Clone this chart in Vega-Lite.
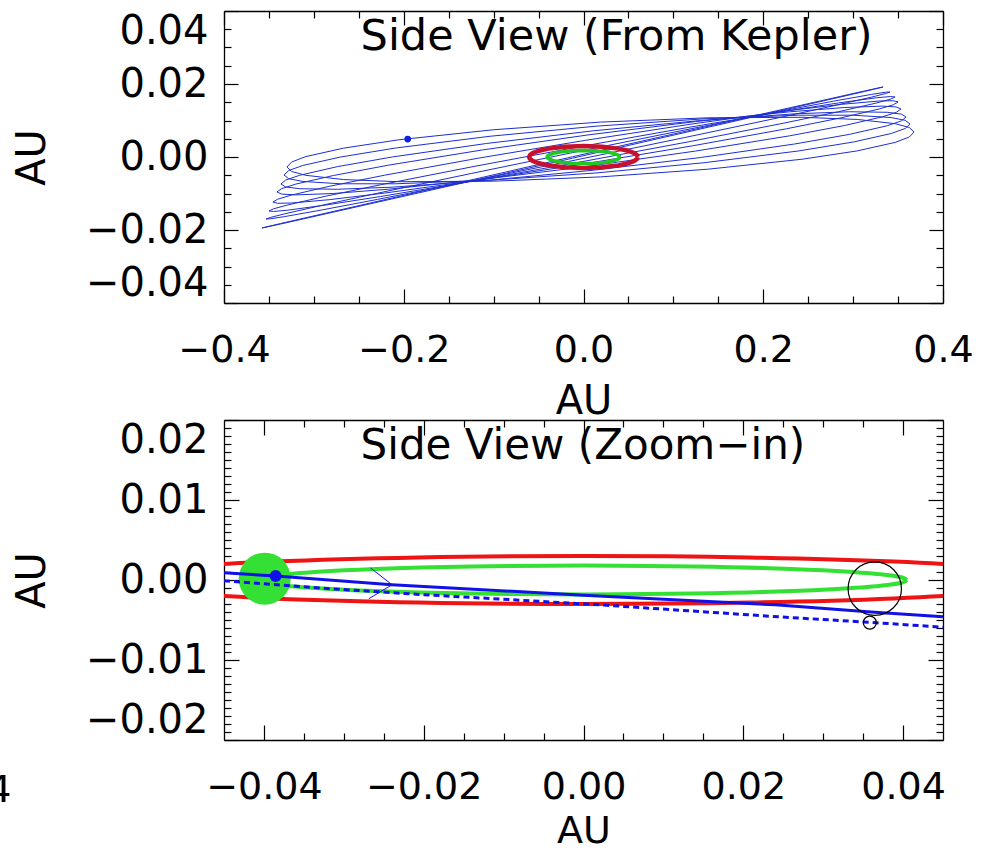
{
"$schema": "https://vega.github.io/schema/vega-lite/v6.json",
"background": "white",
"padding": {"left": -13, "top": 9, "right": 0, "bottom": 0},
"bounds": "flush",
"spacing": 117,
"config": {
  "view": {"stroke": null},
  "font": "DejaVu Sans",
  "axis": {"grid": false, "domainColor": "black", "domainWidth": 1.3, "tickColor": "black", "tickWidth": 1.2,
    "labelFont": "DejaVu Sans", "labelFontSize": 38, "labelColor": "black",
    "titleFont": "DejaVu Sans", "titleFontSize": 40, "titleFontWeight": "normal", "titleColor": "black",
    "labelOverlap": false, "labelBound": false}
},
"datasets": {
  "loops": [
    {"g":0,"i":0,"x":0.3678,"y":0.00685},{"g":0,"i":1,"x":0.3625,"y":0.00808},{"g":0,"i":2,"x":0.3468,"y":0.00913},{"g":0,"i":3,"x":0.3047,"y":0.01029},{"g":0,"i":4,"x":0.2432,"y":0.01088},{"g":0,"i":5,"x":0.1382,"y":0.01074},{"g":0,"i":6,"x":0.0189,"y":0.00956},{"g":0,"i":7,"x":-0.1004,"y":0.00746},{"g":0,"i":8,"x":-0.2054,"y":0.00472},{"g":0,"i":9,"x":-0.2669,"y":0.00243},{"g":0,"i":10,"x":-0.309,"y":0.00011},{"g":0,"i":11,"x":-0.3247,"y":-0.00137},{"g":0,"i":12,"x":-0.33,"y":-0.00274},{"g":0,"i":13,"x":-0.3247,"y":-0.00397},{"g":0,"i":14,"x":-0.309,"y":-0.00502},{"g":0,"i":15,"x":-0.2669,"y":-0.00618},{"g":0,"i":16,"x":-0.2054,"y":-0.00677},{"g":0,"i":17,"x":-0.1004,"y":-0.00663},{"g":0,"i":18,"x":0.0189,"y":-0.00545},{"g":0,"i":19,"x":0.1382,"y":-0.00335},{"g":0,"i":20,"x":0.2432,"y":-0.00061},{"g":0,"i":21,"x":0.3047,"y":0.00168},{"g":0,"i":22,"x":0.3468,"y":0.004},{"g":0,"i":23,"x":0.3625,"y":0.00548},{"g":0,"i":24,"x":0.3678,"y":0.00685},
    {"g":1,"i":0,"x":0.3633,"y":0.00904},{"g":1,"i":1,"x":0.358,"y":0.01005},{"g":1,"i":2,"x":0.3423,"y":0.01081},{"g":1,"i":3,"x":0.3003,"y":0.01145},{"g":1,"i":4,"x":0.2389,"y":0.01145},{"g":1,"i":5,"x":0.1341,"y":0.01046},{"g":1,"i":6,"x":0.015,"y":0.00846},{"g":1,"i":7,"x":-0.1041,"y":0.00568},{"g":1,"i":8,"x":-0.2089,"y":0.00247},{"g":1,"i":9,"x":-0.2703,"y":0.0},{"g":1,"i":10,"x":-0.3123,"y":-0.00232},{"g":1,"i":11,"x":-0.328,"y":-0.00371},{"g":1,"i":12,"x":-0.3333,"y":-0.00493},{"g":1,"i":13,"x":-0.328,"y":-0.00594},{"g":1,"i":14,"x":-0.3123,"y":-0.0067},{"g":1,"i":15,"x":-0.2703,"y":-0.00734},{"g":1,"i":16,"x":-0.2089,"y":-0.00734},{"g":1,"i":17,"x":-0.1041,"y":-0.00635},{"g":1,"i":18,"x":0.015,"y":-0.00435},{"g":1,"i":19,"x":0.1341,"y":-0.00157},{"g":1,"i":20,"x":0.2389,"y":0.00164},{"g":1,"i":21,"x":0.3003,"y":0.00411},{"g":1,"i":22,"x":0.3423,"y":0.00643},{"g":1,"i":23,"x":0.358,"y":0.00782},{"g":1,"i":24,"x":0.3633,"y":0.00904},
    {"g":2,"i":0,"x":0.3589,"y":0.01096},{"g":2,"i":1,"x":0.3536,"y":0.01176},{"g":2,"i":2,"x":0.3379,"y":0.01225},{"g":2,"i":3,"x":0.296,"y":0.0124},{"g":2,"i":4,"x":0.2347,"y":0.01182},{"g":2,"i":5,"x":0.13,"y":0.00999},{"g":2,"i":6,"x":0.0111,"y":0.00718},{"g":2,"i":7,"x":-0.1078,"y":0.00371},{"g":2,"i":8,"x":-0.2125,"y":0.00002},{"g":2,"i":9,"x":-0.2738,"y":-0.00264},{"g":2,"i":10,"x":-0.3157,"y":-0.005},{"g":2,"i":11,"x":-0.3314,"y":-0.00632},{"g":2,"i":12,"x":-0.3367,"y":-0.0074},{"g":2,"i":13,"x":-0.3314,"y":-0.0082},{"g":2,"i":14,"x":-0.3157,"y":-0.00869},{"g":2,"i":15,"x":-0.2738,"y":-0.00884},{"g":2,"i":16,"x":-0.2125,"y":-0.00826},{"g":2,"i":17,"x":-0.1078,"y":-0.00643},{"g":2,"i":18,"x":0.0111,"y":-0.00362},{"g":2,"i":19,"x":0.13,"y":-0.00015},{"g":2,"i":20,"x":0.2347,"y":0.00355},{"g":2,"i":21,"x":0.296,"y":0.0062},{"g":2,"i":22,"x":0.3379,"y":0.00856},{"g":2,"i":23,"x":0.3536,"y":0.00988},{"g":2,"i":24,"x":0.3589,"y":0.01096},
    {"g":3,"i":0,"x":0.3533,"y":0.01315},{"g":3,"i":1,"x":0.348,"y":0.01372},{"g":3,"i":2,"x":0.3324,"y":0.01394},{"g":3,"i":3,"x":0.2905,"y":0.01356},{"g":3,"i":4,"x":0.2293,"y":0.01238},{"g":3,"i":5,"x":0.1248,"y":0.00971},{"g":3,"i":6,"x":0.0061,"y":0.00608},{"g":3,"i":7,"x":-0.1126,"y":0.00193},{"g":3,"i":8,"x":-0.2171,"y":-0.00224},{"g":3,"i":9,"x":-0.2783,"y":-0.00507},{"g":3,"i":10,"x":-0.3202,"y":-0.00743},{"g":3,"i":11,"x":-0.3358,"y":-0.00867},{"g":3,"i":12,"x":-0.3411,"y":-0.00959},{"g":3,"i":13,"x":-0.3358,"y":-0.01016},{"g":3,"i":14,"x":-0.3202,"y":-0.01038},{"g":3,"i":15,"x":-0.2783,"y":-0.01},{"g":3,"i":16,"x":-0.2171,"y":-0.00882},{"g":3,"i":17,"x":-0.1126,"y":-0.00615},{"g":3,"i":18,"x":0.0061,"y":-0.00252},{"g":3,"i":19,"x":0.1248,"y":0.00163},{"g":3,"i":20,"x":0.2293,"y":0.0058},{"g":3,"i":21,"x":0.2905,"y":0.00863},{"g":3,"i":22,"x":0.3324,"y":0.01099},{"g":3,"i":23,"x":0.348,"y":0.01223},{"g":3,"i":24,"x":0.3533,"y":0.01315},
    {"g":4,"i":0,"x":0.35,"y":0.01507},{"g":4,"i":1,"x":0.3447,"y":0.01542},{"g":4,"i":2,"x":0.329,"y":0.01534},{"g":4,"i":3,"x":0.2871,"y":0.01443},{"g":4,"i":4,"x":0.2258,"y":0.01263},{"g":4,"i":5,"x":0.1211,"y":0.00906},{"g":4,"i":6,"x":0.0022,"y":0.00457},{"g":4,"i":7,"x":-0.1167,"y":-0.00031},{"g":4,"i":8,"x":-0.2214,"y":-0.00499},{"g":4,"i":9,"x":-0.2827,"y":-0.00802},{"g":4,"i":10,"x":-0.3246,"y":-0.01041},{"g":4,"i":11,"x":-0.3403,"y":-0.01157},{"g":4,"i":12,"x":-0.3456,"y":-0.01233},{"g":4,"i":13,"x":-0.3403,"y":-0.01268},{"g":4,"i":14,"x":-0.3246,"y":-0.0126},{"g":4,"i":15,"x":-0.2827,"y":-0.01169},{"g":4,"i":16,"x":-0.2214,"y":-0.00989},{"g":4,"i":17,"x":-0.1167,"y":-0.00632},{"g":4,"i":18,"x":0.0022,"y":-0.00183},{"g":4,"i":19,"x":0.1211,"y":0.00305},{"g":4,"i":20,"x":0.2258,"y":0.00773},{"g":4,"i":21,"x":0.2871,"y":0.01076},{"g":4,"i":22,"x":0.329,"y":0.01315},{"g":4,"i":23,"x":0.3447,"y":0.01431},{"g":4,"i":24,"x":0.35,"y":0.01507},
    {"g":5,"i":0,"x":0.3467,"y":0.01644},{"g":5,"i":1,"x":0.3415,"y":0.01657},{"g":5,"i":2,"x":0.3257,"y":0.01622},{"g":5,"i":3,"x":0.2838,"y":0.01482},{"g":5,"i":4,"x":0.2223,"y":0.01247},{"g":5,"i":5,"x":0.1175,"y":0.00814},{"g":5,"i":6,"x":-0.0017,"y":0.00293},{"g":5,"i":7,"x":-0.1208,"y":-0.00254},{"g":5,"i":8,"x":-0.2256,"y":-0.0076},{"g":5,"i":9,"x":-0.2871,"y":-0.01076},{"g":5,"i":10,"x":-0.329,"y":-0.01313},{"g":5,"i":11,"x":-0.3448,"y":-0.01419},{"g":5,"i":12,"x":-0.35,"y":-0.01479},{"g":5,"i":13,"x":-0.3448,"y":-0.01492},{"g":5,"i":14,"x":-0.329,"y":-0.01457},{"g":5,"i":15,"x":-0.2871,"y":-0.01317},{"g":5,"i":16,"x":-0.2256,"y":-0.01082},{"g":5,"i":17,"x":-0.1208,"y":-0.00649},{"g":5,"i":18,"x":-0.0017,"y":-0.00128},{"g":5,"i":19,"x":0.1175,"y":0.00419},{"g":5,"i":20,"x":0.2223,"y":0.00925},{"g":5,"i":21,"x":0.2838,"y":0.01241},{"g":5,"i":22,"x":0.3257,"y":0.01478},{"g":5,"i":23,"x":0.3415,"y":0.01584},{"g":5,"i":24,"x":0.3467,"y":0.01644},
    {"g":6,"i":0,"x":0.3411,"y":0.01781},{"g":6,"i":1,"x":0.3358,"y":0.01774},{"g":6,"i":2,"x":0.3202,"y":0.01714},{"g":6,"i":3,"x":0.2783,"y":0.0153},{"g":6,"i":4,"x":0.2171,"y":0.01244},{"g":6,"i":5,"x":0.1126,"y":0.0074},{"g":6,"i":6,"x":-0.0061,"y":0.00151},{"g":6,"i":7,"x":-0.1248,"y":-0.00451},{"g":6,"i":8,"x":-0.2293,"y":-0.00993},{"g":6,"i":9,"x":-0.2905,"y":-0.01321},{"g":6,"i":10,"x":-0.3324,"y":-0.01557},{"g":6,"i":11,"x":-0.348,"y":-0.01654},{"g":6,"i":12,"x":-0.3533,"y":-0.01699},{"g":6,"i":13,"x":-0.348,"y":-0.01692},{"g":6,"i":14,"x":-0.3324,"y":-0.01632},{"g":6,"i":15,"x":-0.2905,"y":-0.01448},{"g":6,"i":16,"x":-0.2293,"y":-0.01162},{"g":6,"i":17,"x":-0.1248,"y":-0.00658},{"g":6,"i":18,"x":-0.0061,"y":-0.00069},{"g":6,"i":19,"x":0.1126,"y":0.00533},{"g":6,"i":20,"x":0.2171,"y":0.01075},{"g":6,"i":21,"x":0.2783,"y":0.01403},{"g":6,"i":22,"x":0.3202,"y":0.01639},{"g":6,"i":23,"x":0.3358,"y":0.01736},{"g":6,"i":24,"x":0.3411,"y":0.01781},
    {"g":7,"i":0,"x":0.3333,"y":0.01918},{"g":7,"i":1,"x":0.3125,"y":0.01808},{"g":7,"i":2,"x":-0.01225,"y":0.000065},{"g":7,"i":3,"x":-0.337,"y":-0.01822},{"g":7,"i":4,"x":-0.3578,"y":-0.01945},{"g":7,"i":5,"x":-0.337,"y":-0.01836},{"g":7,"i":6,"x":-0.01225,"y":-0.000335},{"g":7,"i":7,"x":0.3125,"y":0.01794},{"g":7,"i":8,"x":0.3333,"y":0.01918}
  ],
  "red": [
    {"i":0,"x":0.0605,"y":0},{"i":1,"x":0.05958,"y":0.00052},{"i":2,"x":0.05685,"y":0.00103},{"i":3,"x":0.04956,"y":0.00172},{"i":4,"x":0.03889,"y":0.0023},{"i":5,"x":0.02069,"y":0.00282},{"i":6,"x":0,"y":0.003},{"i":7,"x":-0.02069,"y":0.00282},{"i":8,"x":-0.03889,"y":0.0023},{"i":9,"x":-0.04956,"y":0.00172},{"i":10,"x":-0.05685,"y":0.00103},{"i":11,"x":-0.05958,"y":0.00052},{"i":12,"x":-0.0605,"y":0},{"i":13,"x":-0.05958,"y":-0.00052},{"i":14,"x":-0.05685,"y":-0.00103},{"i":15,"x":-0.04956,"y":-0.00172},{"i":16,"x":-0.03889,"y":-0.0023},{"i":17,"x":-0.02069,"y":-0.00282},{"i":18,"x":0,"y":-0.003},{"i":19,"x":0.02069,"y":-0.00282},{"i":20,"x":0.03889,"y":-0.0023},{"i":21,"x":0.04956,"y":-0.00172},{"i":22,"x":0.05685,"y":-0.00103},{"i":23,"x":0.05958,"y":-0.00052},{"i":24,"x":0.0605,"y":0}
  ],
  "green": [
    {"i":0,"x":0.0405,"y":0},{"i":1,"x":0.03988,"y":0.00031},{"i":2,"x":0.03806,"y":0.00062},{"i":3,"x":0.03318,"y":0.00103},{"i":4,"x":0.02603,"y":0.00138},{"i":5,"x":0.01385,"y":0.00169},{"i":6,"x":0,"y":0.0018},{"i":7,"x":-0.01385,"y":0.00169},{"i":8,"x":-0.02603,"y":0.00138},{"i":9,"x":-0.03318,"y":0.00103},{"i":10,"x":-0.03806,"y":0.00062},{"i":11,"x":-0.03988,"y":0.00031},{"i":12,"x":-0.0405,"y":0},{"i":13,"x":-0.03988,"y":-0.00031},{"i":14,"x":-0.03806,"y":-0.00062},{"i":15,"x":-0.03318,"y":-0.00103},{"i":16,"x":-0.02603,"y":-0.00138},{"i":17,"x":-0.01385,"y":-0.00169},{"i":18,"x":0,"y":-0.0018},{"i":19,"x":0.01385,"y":-0.00169},{"i":20,"x":0.02603,"y":-0.00138},{"i":21,"x":0.03318,"y":-0.00103},{"i":22,"x":0.03806,"y":-0.00062},{"i":23,"x":0.03988,"y":-0.00031},{"i":24,"x":0.0405,"y":0}
  ]
},
"vconcat": [
  {
    "width": 719, "height": 292,
    "resolve": {"axis": {"x": "independent", "y": "independent"}},
    "layer": [
      {
        "data": {"name": "loops"},
        "mark": {"type": "line", "stroke": "#1e2fd0", "strokeWidth": 1, "clip": true},
        "encoding": {
          "x": {"field": "x", "type": "quantitative", "scale": {"domain": [-0.4, 0.4], "nice": false, "zero": false},
            "axis": {"orient": "bottom", "values": [-0.4,-0.35,-0.3,-0.25,-0.2,-0.15,-0.1,-0.05,0,0.05,0.1,0.15,0.2,0.25,0.3,0.35,0.4],
              "labelExpr": "abs(datum.value/0.2-round(datum.value/0.2))<0.01 ? format(datum.value,'.1f') : ''",
              "tickSize": {"condition": {"test": "abs(datum.value/0.2-round(datum.value/0.2))<0.01", "value": -14}, "value": -7},
              "labelPadding": 42, "title": "AU", "titlePadding": 5, "labelFlush": false}},
          "y": {"field": "y", "type": "quantitative", "scale": {"domain": [-0.04, 0.04], "nice": false, "zero": false},
            "axis": {"orient": "left", "values": [-0.04,-0.035,-0.03,-0.025,-0.02,-0.015,-0.01,-0.005,0,0.005,0.01,0.015,0.02,0.025,0.03,0.035,0.04],
              "labelExpr": "abs(datum.value/0.02-round(datum.value/0.02))<0.01 ? format(datum.value,'.2f') : ''",
              "tickSize": {"condition": {"test": "abs(datum.value/0.02-round(datum.value/0.02))<0.01", "value": -14}, "value": -7},
              "labelPadding": 30, "labelFontSize": 40, "title": "AU", "titlePadding": 33, "labelFlush": true}},
          "detail": {"field": "g"},
          "order": {"field": "i"}
        }
      },
      {
        "data": {"name": "red"},
        "mark": {"type": "line", "stroke": "#c8102e", "strokeWidth": 4.5, "clip": true},
        "encoding": {
          "x": {"field": "x", "type": "quantitative", "scale": {"domain": [-0.4, 0.4], "nice": false, "zero": false},
            "axis": {"orient": "top", "values": [-0.4,-0.35,-0.3,-0.25,-0.2,-0.15,-0.1,-0.05,0,0.05,0.1,0.15,0.2,0.25,0.3,0.35,0.4],
              "labels": false, "title": null,
              "tickSize": {"condition": {"test": "abs(datum.value/0.2-round(datum.value/0.2))<0.01", "value": -14}, "value": -7}}},
          "y": {"field": "y", "type": "quantitative", "scale": {"domain": [-0.04, 0.04], "nice": false, "zero": false},
            "axis": {"orient": "right", "values": [-0.04,-0.035,-0.03,-0.025,-0.02,-0.015,-0.01,-0.005,0,0.005,0.01,0.015,0.02,0.025,0.03,0.035,0.04],
              "labels": false, "title": null,
              "tickSize": {"condition": {"test": "abs(datum.value/0.02-round(datum.value/0.02))<0.01", "value": -14}, "value": -7}}},
          "order": {"field": "i"}
        }
      },
      {
        "data": {"name": "green"},
        "mark": {"type": "line", "stroke": "#22c822", "strokeWidth": 3.5, "clip": true},
        "encoding": {
          "x": {"field": "x", "type": "quantitative", "scale": {"domain": [-0.4, 0.4], "nice": false, "zero": false}, "axis": null},
          "y": {"field": "y", "type": "quantitative", "scale": {"domain": [-0.04, 0.04], "nice": false, "zero": false}, "axis": null},
          "order": {"field": "i"}
        }
      },
      {
        "data": {"values": [{"x": -0.1956, "y": 0.0049}]},
        "mark": {"type": "point", "shape": "circle", "filled": true, "size": 45, "color": "#1020e0", "opacity": 1},
        "encoding": {
          "x": {"field": "x", "type": "quantitative", "scale": {"domain": [-0.4, 0.4], "nice": false, "zero": false}, "axis": null},
          "y": {"field": "y", "type": "quantitative", "scale": {"domain": [-0.04, 0.04], "nice": false, "zero": false}, "axis": null}
        }
      },
      {
        "data": {"values": [{"x": -0.248, "y": 0.0293, "label": "Side View (From Kepler)"}]},
        "mark": {"type": "text", "align": "left", "baseline": "alphabetic", "font": "DejaVu Sans", "fontSize": 43, "color": "black"},
        "encoding": {
          "x": {"field": "x", "type": "quantitative", "scale": {"domain": [-0.4, 0.4], "nice": false, "zero": false}, "axis": null},
          "y": {"field": "y", "type": "quantitative", "scale": {"domain": [-0.04, 0.04], "nice": false, "zero": false}, "axis": null},
          "text": {"field": "label"}
        }
      }
    ]
  },
  {
    "width": 719, "height": 320,
    "resolve": {"axis": {"x": "independent", "y": "independent"}},
    "layer": [
      {
        "data": {"name": "red"},
        "mark": {"type": "line", "stroke": "#ee1414", "strokeWidth": 4, "clip": true, "interpolate": "catmull-rom"},
        "encoding": {
          "x": {"field": "x", "type": "quantitative", "scale": {"domain": [-0.045, 0.045], "nice": false, "zero": false},
            "axis": {"orient": "bottom", "values": [-0.04,-0.035,-0.03,-0.025,-0.02,-0.015,-0.01,-0.005,0,0.005,0.01,0.015,0.02,0.025,0.03,0.035,0.04],
              "labelExpr": "abs(datum.value/0.02-round(datum.value/0.02))<0.01 ? format(datum.value,'.2f') : ''",
              "tickSize": {"condition": {"test": "abs(datum.value/0.02-round(datum.value/0.02))<0.01", "value": -15}, "value": -7},
              "labelPadding": 43, "title": "AU", "titleFontSize": 38, "titlePadding": -2, "labelFlush": false}},
          "y": {"field": "y", "type": "quantitative", "scale": {"domain": [-0.02, 0.02], "nice": false, "zero": false},
            "axis": {"orient": "left", "values": [-0.02,-0.019,-0.018,-0.017,-0.016,-0.015,-0.014,-0.013,-0.012,-0.011,-0.01,-0.009,-0.008,-0.007,-0.006,-0.005,-0.004,-0.003,-0.002,-0.001,0,0.001,0.002,0.003,0.004,0.005,0.006,0.007,0.008,0.009,0.01,0.011,0.012,0.013,0.014,0.015,0.016,0.017,0.018,0.019,0.02],
              "labelExpr": "abs(datum.value/0.01-round(datum.value/0.01))<0.01 ? format(datum.value,'.2f') : ''",
              "tickSize": {"condition": {"test": "abs(datum.value/0.01-round(datum.value/0.01))<0.01", "value": -15}, "value": -7},
              "labelPadding": 31, "labelFontSize": 40, "title": "AU", "titlePadding": 33, "labelFlush": true}},
          "order": {"field": "i"}
        }
      },
      {
        "data": {"name": "green"},
        "mark": {"type": "line", "stroke": "#33e033", "strokeWidth": 4, "clip": true, "interpolate": "catmull-rom"},
        "encoding": {
          "x": {"field": "x", "type": "quantitative", "scale": {"domain": [-0.045, 0.045], "nice": false, "zero": false},
            "axis": {"orient": "top", "values": [-0.04,-0.035,-0.03,-0.025,-0.02,-0.015,-0.01,-0.005,0,0.005,0.01,0.015,0.02,0.025,0.03,0.035,0.04],
              "labels": false, "title": null,
              "tickSize": {"condition": {"test": "abs(datum.value/0.02-round(datum.value/0.02))<0.01", "value": -15}, "value": -7}}},
          "y": {"field": "y", "type": "quantitative", "scale": {"domain": [-0.02, 0.02], "nice": false, "zero": false},
            "axis": {"orient": "right", "values": [-0.02,-0.019,-0.018,-0.017,-0.016,-0.015,-0.014,-0.013,-0.012,-0.011,-0.01,-0.009,-0.008,-0.007,-0.006,-0.005,-0.004,-0.003,-0.002,-0.001,0,0.001,0.002,0.003,0.004,0.005,0.006,0.007,0.008,0.009,0.01,0.011,0.012,0.013,0.014,0.015,0.016,0.017,0.018,0.019,0.02],
              "labels": false, "title": null,
              "tickSize": {"condition": {"test": "abs(datum.value/0.01-round(datum.value/0.01))<0.01", "value": -15}, "value": -7}}},
          "order": {"field": "i"}
        }
      },
      {
        "data": {"values": [{"x": -0.0399, "y": 0.00017}]},
        "mark": {"type": "point", "shape": "circle", "filled": true, "size": 2704, "color": "#33e033", "opacity": 1},
        "encoding": {
          "x": {"field": "x", "type": "quantitative", "scale": {"domain": [-0.045, 0.045], "nice": false, "zero": false}, "axis": null},
          "y": {"field": "y", "type": "quantitative", "scale": {"domain": [-0.02, 0.02], "nice": false, "zero": false}, "axis": null}
        }
      },
      {
        "data": {"values": [{"i":0,"x":-0.045,"y":0.0009},{"i":1,"x":-0.0385,"y":0.0005},{"i":2,"x":-0.024,"y":-0.0006},{"i":3,"x":0.0,"y":-0.0019},{"i":4,"x":0.024,"y":-0.0031},{"i":5,"x":0.036,"y":-0.004},{"i":6,"x":0.045,"y":-0.0046}]},
        "mark": {"type": "line", "stroke": "#1010e8", "strokeWidth": 3, "clip": true},
        "encoding": {
          "x": {"field": "x", "type": "quantitative", "scale": {"domain": [-0.045, 0.045], "nice": false, "zero": false}, "axis": null},
          "y": {"field": "y", "type": "quantitative", "scale": {"domain": [-0.02, 0.02], "nice": false, "zero": false}, "axis": null},
          "order": {"field": "i"}
        }
      },
      {
        "data": {"values": [{"i":0,"x":-0.045,"y":-0.0001},{"i":1,"x":-0.033,"y":-0.001},{"i":2,"x":-0.0206,"y":-0.0018},{"i":3,"x":0.002,"y":-0.0031},{"i":4,"x":0.0244,"y":-0.0046},{"i":5,"x":0.036,"y":-0.0053},{"i":6,"x":0.045,"y":-0.0059}]},
        "mark": {"type": "line", "stroke": "#1010e8", "strokeWidth": 3, "strokeDash": [6, 4], "clip": true},
        "encoding": {
          "x": {"field": "x", "type": "quantitative", "scale": {"domain": [-0.045, 0.045], "nice": false, "zero": false}, "axis": null},
          "y": {"field": "y", "type": "quantitative", "scale": {"domain": [-0.02, 0.02], "nice": false, "zero": false}, "axis": null},
          "order": {"field": "i"}
        }
      },
      {
        "data": {"values": [{"i":0,"x":-0.02666,"y":0.0015},{"i":1,"x":-0.02396,"y":-0.00059},{"i":2,"x":-0.02688,"y":-0.00234}]},
        "mark": {"type": "line", "stroke": "#1010e8", "strokeWidth": 1, "clip": true},
        "encoding": {
          "x": {"field": "x", "type": "quantitative", "scale": {"domain": [-0.045, 0.045], "nice": false, "zero": false}, "axis": null},
          "y": {"field": "y", "type": "quantitative", "scale": {"domain": [-0.02, 0.02], "nice": false, "zero": false}, "axis": null},
          "order": {"field": "i"}
        }
      },
      {
        "data": {"values": [{"x": -0.03854, "y": 0.0005}]},
        "mark": {"type": "point", "shape": "circle", "filled": true, "size": 144, "color": "#1010e8", "opacity": 1},
        "encoding": {
          "x": {"field": "x", "type": "quantitative", "scale": {"domain": [-0.045, 0.045], "nice": false, "zero": false}, "axis": null},
          "y": {"field": "y", "type": "quantitative", "scale": {"domain": [-0.02, 0.02], "nice": false, "zero": false}, "axis": null}
        }
      },
      {
        "data": {"values": [{"x": 0.03646, "y": -0.00108}]},
        "mark": {"type": "point", "shape": "circle", "filled": false, "size": 2850, "stroke": "black", "strokeWidth": 1.2, "opacity": 1},
        "encoding": {
          "x": {"field": "x", "type": "quantitative", "scale": {"domain": [-0.045, 0.045], "nice": false, "zero": false}, "axis": null},
          "y": {"field": "y", "type": "quantitative", "scale": {"domain": [-0.02, 0.02], "nice": false, "zero": false}, "axis": null}
        }
      },
      {
        "data": {"values": [{"x": 0.03584, "y": -0.00533}]},
        "mark": {"type": "point", "shape": "circle", "filled": false, "size": 169, "stroke": "black", "strokeWidth": 1.2, "opacity": 1},
        "encoding": {
          "x": {"field": "x", "type": "quantitative", "scale": {"domain": [-0.045, 0.045], "nice": false, "zero": false}, "axis": null},
          "y": {"field": "y", "type": "quantitative", "scale": {"domain": [-0.02, 0.02], "nice": false, "zero": false}, "axis": null}
        }
      },
      {
        "data": {"values": [{"x": -0.0279, "y": 0.01513, "label": "Side View (Zoom−in)"}]},
        "mark": {"type": "text", "align": "left", "baseline": "alphabetic", "font": "DejaVu Sans", "fontSize": 42, "color": "black"},
        "encoding": {
          "x": {"field": "x", "type": "quantitative", "scale": {"domain": [-0.045, 0.045], "nice": false, "zero": false}, "axis": null},
          "y": {"field": "y", "type": "quantitative", "scale": {"domain": [-0.02, 0.02], "nice": false, "zero": false}, "axis": null},
          "text": {"field": "label"}
        }
      },
      {
        "data": {"values": [{"x": -0.0716, "y": -0.02769, "label": "4"}]},
        "mark": {"type": "text", "align": "right", "baseline": "alphabetic", "font": "DejaVu Sans", "fontSize": 38, "color": "black"},
        "encoding": {
          "x": {"field": "x", "type": "quantitative", "scale": {"domain": [-0.045, 0.045], "nice": false, "zero": false}, "axis": null},
          "y": {"field": "y", "type": "quantitative", "scale": {"domain": [-0.02, 0.02], "nice": false, "zero": false}, "axis": null},
          "text": {"field": "label"}
        }
      }
    ]
  }
]
}
